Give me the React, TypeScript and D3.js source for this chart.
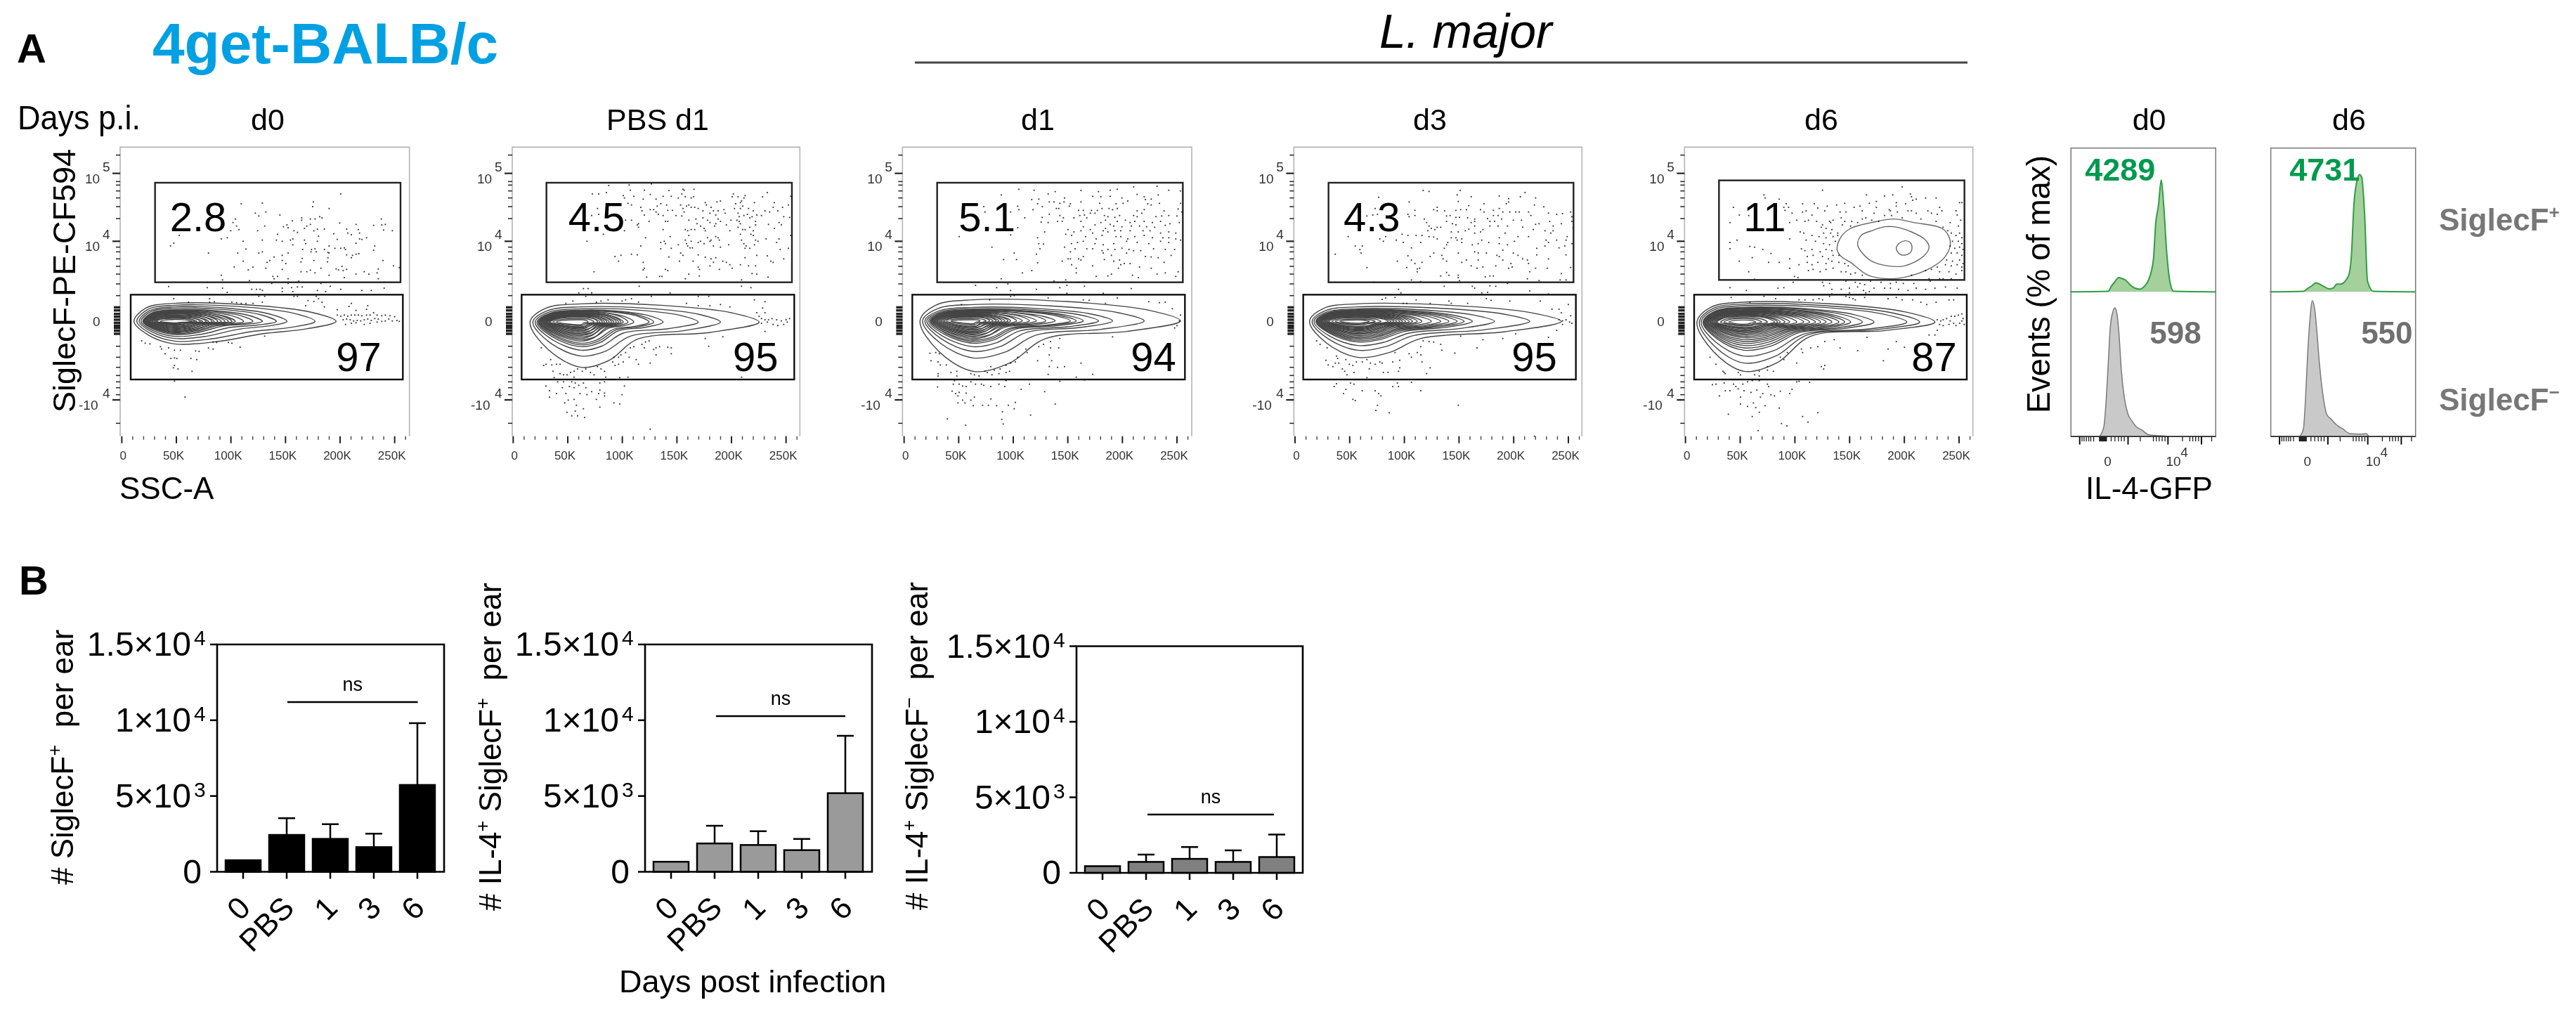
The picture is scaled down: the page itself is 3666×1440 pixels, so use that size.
import React from "react";
import * as D3 from "d3";

// ---------- Flow plots: digitised display channels (0-1290 across the plot crop) ----------
const columnTitles = ["d0", "PBS d1", "d1", "d3", "d6"];
const upperPercents = ["2.8", "4.5", "5.1", "4.3", "11"];
const lowerPercents = ["97", "95", "94", "95", "87"];
const sscTickValues = [0, 50, 100, 150, 200, 250];
const sscTickLabels = ["0", "50K", "100K", "150K", "200K", "250K"];
const sscMinorValues = [10,20,30,40,60,70,80,90,110,120,130,140,160,170,180,190,210,220,230,240,260];
const sigMajorChannels = [140, 430, 1107];
const sigMinorChannels = [62,175,190,215,245,282,333,455,475,505,537,570,612,662,712,725,740,752,765,778,790,800,812,825,878,925,968,1003,1030,1055,1085,1207];

const dotsD0 = [975,228,858,262,855,282,640,267,550,270,925,290,655,305,610,310,625,322,715,318,525,335,808,330,808,340,845,335,865,335,885,325,895,330,1148,335,970,352,1040,358,1115,362,1150,360,1165,358,768,343,745,360,730,368,750,372,845,358,830,365,820,375,650,365,620,385,540,380,515,350,530,365,505,385,1195,385,1158,382,1000,378,1050,380,905,378,875,378,860,385,775,385,790,392,705,400,1005,395,945,398,1020,402,1055,395,465,420,490,415,285,405,262,438,248,450,640,425,558,430,700,425,725,430,760,425,770,420,820,425,825,440,880,408,875,430,960,422,1085,415,1065,422,1055,420,1040,438,1120,450,770,445,925,450,950,460,975,460,990,458,995,465,850,465,865,462,905,465,870,475,848,475,812,465,1115,468,570,463,640,475,625,480,535,480,410,480,750,480,725,490,920,478,925,480,1000,488,1040,485,1052,483,1025,490,690,497,660,520,672,512,558,515,725,512,740,525,810,503,805,518,860,512,920,500,918,518,1020,500,1155,512,520,540,600,540,580,552,655,545,725,550,805,560,830,560,845,553,865,565,890,545,955,548,965,552,980,537,985,555,1000,550,1200,535,1225,542,1135,548,1130,565,1075,560,1095,570,1040,570,990,585,925,575,685,580,705,580,690,590,750,590,465,575,585,598,470,595,795,600,1135,590,890,610,405,605,240,623,405,628,470,630,490,648,595,635,615,635,630,635,640,640,680,610,725,630,765,628,790,625,810,625,725,645,770,645,875,640,910,645,930,622,975,635,1065,640,1105,640,1160,630,1160,605,750,610,262,675,415,675,625,665,650,665,775,665,790,665,870,665,880,675,325,690,415,690,435,688,510,690,530,692,550,695,570,695,600,695,640,690,835,683,860,687,895,690,825,705,905,710,1020,695,1010,708,1040,725,1090,705,1085,720,960,722,960,745,975,750,990,745,1005,750,1020,745,1035,745,1050,745,1065,748,1085,745,1100,745,1115,735,1130,745,1150,748,1165,745,1185,748,1205,752,985,765,1000,762,1015,765,1030,770,1045,768,1060,770,1075,765,1090,762,1105,768,1120,760,1135,762,1150,772,1165,770,1180,762,1195,770,1215,768,1225,772,995,785,1020,780,1040,778,1075,785,1100,780,1130,775,125,855,140,865,160,868,205,880,210,890,240,885,225,910,265,895,290,895,355,898,370,900,430,860,445,862,410,885,430,890,495,862,510,865,545,882,650,835,250,930,265,928,275,930,335,930,360,935,265,960,260,970,280,975,340,985,265,1027,310,1095];

const dotsPbs = [448,192,535,180,535,190,630,185,540,212,600,212,765,208,770,212,812,208,705,213,378,228,405,228,438,222,510,235,515,245,555,238,595,250,625,230,650,250,680,238,715,238,745,245,760,228,775,240,800,245,810,240,860,265,910,262,925,258,975,240,980,228,1000,240,1030,235,1025,245,1105,240,1125,222,1225,238,1015,258,1010,265,990,270,1070,265,1155,265,1215,275,1150,285,1190,285,530,268,545,275,585,285,640,295,655,280,670,270,695,275,755,275,765,290,780,280,790,275,800,285,815,285,830,290,865,275,885,285,915,300,940,295,985,290,1010,290,1020,280,1045,290,1065,300,1115,300,1170,300,400,290,375,320,405,315,590,300,600,318,625,295,650,305,660,315,680,320,700,298,720,298,735,320,760,322,770,305,850,300,880,310,895,300,905,318,945,310,1000,310,1005,325,1025,320,1040,315,1060,325,1080,318,1100,320,1135,305,1195,325,1220,328,520,340,545,340,575,355,620,345,690,345,700,345,790,340,820,335,850,330,870,340,915,335,925,345,905,355,970,340,995,340,1005,345,1010,355,1050,330,1075,345,1130,358,1175,350,1185,360,570,360,575,370,680,380,775,380,785,385,800,380,825,355,840,365,855,375,860,385,880,350,900,365,950,360,1000,370,1020,380,1030,380,1050,370,1075,360,1065,385,1155,375,425,400,515,385,605,415,710,410,790,405,815,380,870,415,885,425,905,410,915,415,920,425,965,385,1010,400,1055,400,1065,405,1225,405,1175,420,355,430,585,450,670,435,685,430,690,440,775,425,780,440,800,430,830,435,840,430,855,440,880,430,960,445,1015,425,1025,440,1035,450,1075,425,1085,430,1070,445,1120,420,1165,435,1180,465,1215,460,670,462,715,460,745,445,785,450,795,458,805,458,895,450,925,455,1030,460,1050,460,475,495,500,490,545,485,570,488,490,515,755,480,765,490,705,497,830,488,860,498,885,505,905,500,1030,500,1080,490,1125,492,1195,505,1140,515,1150,520,595,520,750,515,808,515,895,520,935,515,950,520,1010,530,600,545,595,552,700,555,690,550,830,540,835,550,880,535,920,550,965,530,975,545,1045,535,1075,535,385,560,610,583,665,580,675,580,775,590,790,570,835,578,1060,568,1080,570,1128,583,1015,595,578,622,1015,622,1055,628,340,632,360,632,320,650,350,665,375,650,630,665,710,650,830,665,875,665,445,680,505,685,295,685,265,695,395,690,415,685,520,680,545,675,575,690,780,695,830,705,880,705,925,700,965,710,1070,680,1115,688,1080,735,1105,715,1115,735,1090,750,1100,760,1115,765,1130,765,1145,760,1165,765,1185,770,1205,765,1220,760,1100,780,1125,775,1150,785,1170,790,1195,785,1210,775,1115,815,160,885,860,845,935,838,875,878,715,885,715,910,700,882,665,880,650,885,640,892,620,855,605,860,590,870,600,885,555,880,540,885,650,915,625,950,575,955,565,935,535,925,520,905,500,915,490,925,470,925,465,945,475,960,490,955,510,945,170,960,180,955,200,935,205,958,225,955,240,955,400,965,415,975,430,985,210,985,240,995,255,1000,270,1000,285,990,300,985,315,975,335,985,350,975,370,990,385,1000,435,1010,215,1012,280,1020,300,1010,495,1012,530,1010,1015,1010,230,1030,255,1030,290,1030,305,1035,340,1035,410,1035,430,1030,180,1048,195,1068,225,1080,250,1055,280,1050,300,1055,320,1045,350,1055,375,1072,265,1080,325,1080,355,1085,410,1065,405,1080,430,1078,515,1048,505,1085,195,1095,275,1108,300,1105,395,1105,430,1090,260,1120,310,1130,340,1145,410,1138,470,1120,495,1125,270,1160,290,1175,315,1175,345,1182,305,1155,625,1232];

const dotsD1 = [525,208,590,212,650,228,680,218,720,245,790,213,865,218,840,238,875,240,915,212,945,208,915,238,965,245,1015,198,1030,230,1115,195,1120,232,1165,212,1215,215,1060,240,1090,250,1065,252,450,232,580,252,610,250,655,262,675,262,700,268,718,262,745,270,790,262,870,268,940,270,970,268,1075,270,1090,275,1125,268,1215,268,990,258,520,280,525,295,605,270,625,282,685,290,695,290,740,280,780,298,800,298,835,298,860,298,880,290,910,290,925,295,945,290,1030,300,1060,295,1145,300,1205,292,1220,305,585,295,375,282,380,305,490,305,550,330,625,328,655,315,700,320,715,330,760,330,785,320,805,318,830,310,850,310,890,320,905,325,935,328,955,320,1015,320,1030,325,1050,310,1110,325,1135,322,1165,320,1200,322,620,348,650,350,690,345,710,345,790,345,815,330,875,350,895,340,915,358,945,345,980,340,1000,350,1020,345,1060,345,1095,350,1130,345,1170,355,1210,350,520,372,490,403,800,368,850,360,895,375,930,365,965,368,1005,365,1040,365,1070,368,1105,370,1150,362,735,380,760,390,790,385,830,380,840,395,885,385,905,390,935,385,960,385,1000,385,1055,385,1085,385,1130,395,1165,390,1195,395,270,410,725,400,750,405,810,410,855,420,880,405,940,410,960,410,990,420,1020,410,1060,405,1095,415,1140,415,1165,415,1215,425,610,440,630,442,605,415,635,390,720,455,750,440,775,435,800,430,850,440,885,445,930,440,985,430,1030,435,1080,440,1130,430,1165,435,1195,420,410,455,615,462,745,475,765,462,815,462,840,462,880,470,905,465,935,465,965,460,995,465,1015,470,1045,470,1100,462,1150,465,1190,465,505,480,600,485,735,505,780,505,790,510,885,480,920,490,985,480,1065,495,1090,497,1120,500,1175,490,460,508,515,508,710,515,745,505,800,495,890,508,930,515,955,510,1000,525,1145,520,605,522,750,530,840,535,960,530,975,525,1040,540,1090,545,770,545,580,555,950,545,540,565,770,565,855,580,905,578,920,570,1010,575,1035,585,1115,570,1150,565,1195,580,1205,560,450,590,675,600,725,595,780,605,800,605,340,618,430,628,478,612,600,635,700,628,730,618,805,622,1005,632,730,652,885,652,490,640,490,665,505,662,945,672,400,680,650,672,800,680,825,682,280,700,895,695,1080,688,1125,692,1150,690,1180,718,1215,745,1210,770,1200,790,1190,800,700,845,925,838,660,858,630,870,610,880,660,885,695,885,555,890,560,905,655,915,605,940,665,940,790,950,690,968,720,965,655,965,145,908,170,905,185,910,150,940,180,945,190,958,215,958,520,925,510,945,490,950,470,960,445,975,405,965,420,980,380,985,390,990,180,995,235,990,260,985,260,1005,320,995,335,1000,355,1005,410,1000,440,995,470,990,485,985,650,998,840,998,770,1010,180,1005,250,1025,245,1040,270,1040,285,1048,300,1050,340,1040,365,1040,375,1045,405,1050,440,1040,465,1050,470,1025,320,1030,570,1040,805,1022,700,1028,178,1052,240,1070,255,1080,270,1075,300,1078,265,1090,535,1062,635,1072,285,1108,320,1108,405,1103,265,1120,295,1120,335,1095,330,1132,370,1130,395,1130,430,1132,480,1130,510,1118,505,1145,680,1125,455,1158,575,1172,220,1188,452,1190,458,1210,298,1215];

const dotsD3 = [580,213,605,217,738,213,725,232,785,240,730,260,905,237,1015,222,995,240,1060,245,945,248,935,270,945,262,390,242,520,262,840,270,1055,275,1095,283,775,278,765,295,640,285,625,295,672,300,640,300,720,298,740,295,825,295,840,305,880,298,905,290,920,305,950,305,975,305,990,305,1030,305,1115,310,1210,305,375,290,545,298,340,322,365,318,385,315,515,315,520,325,545,320,680,322,695,320,720,328,735,328,770,330,800,335,855,333,880,320,900,320,1040,320,1150,315,1175,312,1215,325,585,335,595,350,605,365,640,370,680,345,705,355,720,360,785,350,800,345,865,345,885,345,915,335,965,340,1000,340,1075,355,1060,358,1120,345,1135,365,1170,355,1215,345,600,385,615,375,630,380,655,370,700,390,730,390,760,385,775,378,800,365,835,380,865,365,900,365,940,365,1005,370,1050,380,1100,385,1135,385,1220,372,490,400,515,405,550,405,575,405,605,410,625,412,640,420,700,415,720,415,745,420,800,395,825,390,905,415,930,395,985,410,1030,410,1125,395,1195,410,260,410,420,410,395,420,410,430,465,425,495,435,570,435,685,435,725,425,745,435,790,445,815,440,830,425,860,435,905,440,940,445,970,430,1105,425,1150,425,1190,425,290,450,320,450,310,465,530,458,670,460,680,445,920,468,1065,460,1100,450,1115,435,1160,458,1185,450,1215,440,205,485,315,480,625,480,660,490,730,480,800,475,815,480,850,480,895,490,905,495,965,480,985,490,1065,488,1190,488,515,492,610,495,470,515,530,510,665,505,680,515,745,520,765,510,815,510,920,510,1005,505,1025,510,1115,505,545,525,575,520,955,525,1030,525,510,542,555,548,565,545,785,535,810,545,835,540,890,535,945,545,960,540,1060,545,1110,545,1210,542,340,542,555,560,680,563,690,575,655,578,730,575,730,585,845,582,865,578,880,578,1035,560,1170,568,530,595,570,602,735,598,370,605,1025,590,1075,598,1165,595,1190,595,940,610,670,622,790,622,800,630,865,620,890,622,475,635,485,650,830,650,855,648,1035,642,1115,655,420,672,460,670,550,680,405,678,850,675,870,682,495,695,510,695,610,695,690,685,700,695,770,695,950,685,1080,685,1200,700,1130,720,1160,720,1170,735,1210,748,1160,765,1175,770,1190,765,1205,775,1215,780,1175,785,1150,810,740,835,835,850,920,845,810,885,975,825,1115,840,125,855,140,870,170,885,580,855,605,858,625,860,655,870,570,880,660,895,715,907,555,905,520,910,570,915,530,925,460,905,210,920,215,930,250,935,480,938,165,938,175,958,195,965,205,950,220,950,265,955,280,960,295,945,320,945,340,935,355,950,375,955,395,945,405,950,450,945,480,970,575,945,610,970,235,975,245,985,350,975,410,990,430,990,475,985,595,995,255,1000,285,990,340,1012,200,1050,210,1038,245,1020,270,1035,285,1040,450,1050,470,1035,475,1050,530,1032,250,1062,320,1068,375,1068,570,1068,240,1080,390,1080,400,1090,280,1105,290,1110,385,1130,730,1130,378,1152,435,1162,1055,1262];

const dotsD6 = [960,198,620,212,808,232,885,237,920,232,995,228,1000,240,370,232,1020,250,1060,245,1105,245,435,250,935,265,850,260,375,245,240,285,465,270,455,285,475,285,535,270,585,270,640,280,680,275,715,268,755,285,780,280,820,268,850,285,905,295,935,280,975,270,1005,255,1120,285,1205,265,1215,265,265,318,225,350,305,320,490,310,460,298,535,305,550,300,575,318,600,288,630,300,650,345,695,305,720,305,790,300,805,330,840,310,910,300,915,320,940,305,985,300,1000,300,1020,310,1070,300,1085,310,1110,315,1130,300,1190,300,1195,318,480,350,510,340,545,345,560,340,595,345,620,360,655,350,665,340,700,330,715,345,745,345,770,350,790,335,830,340,860,345,885,320,960,330,1040,335,1105,345,1165,350,1135,370,1155,385,1210,340,1200,365,615,370,635,375,660,380,705,360,740,365,625,395,655,395,685,395,1170,395,1190,405,1205,395,1215,415,525,390,540,395,575,405,605,410,635,415,665,410,685,405,1175,430,1200,430,1215,440,480,420,550,425,590,430,625,440,650,445,675,430,1165,450,1185,460,1205,455,1220,465,310,452,330,455,225,435,255,425,225,462,365,465,400,482,530,462,545,470,575,465,610,475,635,465,660,470,1170,480,1195,480,1215,490,320,500,265,515,390,520,435,520,480,505,555,495,580,490,620,495,645,505,665,490,690,490,1150,510,1175,515,1205,510,1220,525,305,560,480,545,520,530,555,520,575,530,600,520,635,525,660,515,690,520,715,525,730,535,1110,540,1145,530,1170,535,1195,530,1215,540,330,592,500,580,515,585,495,605,560,555,580,550,610,560,635,550,665,545,700,560,720,560,740,570,760,565,790,575,1060,555,1085,550,1120,560,1160,560,1190,570,1215,555,1075,590,1135,590,1170,590,1000,575,620,605,650,610,720,600,760,605,780,610,800,615,825,600,870,605,910,610,935,605,965,610,1010,610,1080,600,1120,590,225,628,295,640,430,630,455,628,625,620,660,635,700,635,735,630,770,625,795,640,820,645,840,630,885,630,910,630,945,635,985,640,1020,630,1060,635,1100,630,1145,625,1195,630,660,655,735,650,805,650,230,670,310,690,370,665,420,675,520,680,545,680,580,680,605,675,620,680,650,665,720,665,735,670,750,675,760,680,800,670,900,675,935,670,960,680,1005,680,1040,690,1065,700,1105,690,1160,680,1180,680,1110,765,1125,770,1135,765,1150,760,1165,770,1170,750,1185,750,1200,745,1215,740,1220,760,1215,770,1120,785,1135,790,1160,785,1180,780,1190,790,1205,780,1225,785,1110,810,1075,830,1100,830,810,840,935,858,970,882,900,890,770,897,880,940,695,885,670,850,630,858,600,880,570,885,530,890,535,905,470,905,440,925,455,935,510,950,615,965,630,960,625,975,140,925,165,955,385,965,350,985,385,980,200,990,195,985,205,995,260,990,270,1000,330,1000,350,1005,410,985,165,1040,150,1042,200,1035,240,1040,250,1050,260,1060,280,1040,300,1030,320,1025,350,1025,385,1040,390,1050,510,1030,520,1028,565,1032,205,1068,225,1068,180,1090,285,1068,315,1075,340,1065,365,1080,400,1085,415,1090,440,1070,480,1080,490,1062,355,1095,270,1095,270,1125,300,1135,325,1120,335,1140,375,1132,435,1142,218,1168,320,1178,350,1160,535,1178,600,1162,558,1202,445,1208,468,1218,345,1238];
const dotLists = [dotsD0, dotsPbs, dotsD1, dotsD3, dotsD6];

// contour: [left, right, top, bottom, neckX, neckY] channels, outermost first
const contoursD0 = [[92,955,695,868,640,825],[104,865,703,856,590,816],[114,745,710,845,540,805],[122,700,716,836,500,798],[130,640,722,828,470,792],[136,560,727,820,440,788],[142,525,731,814,420,786],[148,495,735,808,400,785],[154,465,739,802,380,784],[160,435,744,796,360,783],[168,410,749,790,340,782],[178,385,754,785,320,780],[190,360,759,781,300,778],[205,340,764,778,285,776],[133,600,724,824,450,790],[139,510,729,818,420,787],[145,480,733,812,400,785],[151,450,737,806,380,784],[157,425,741,800,360,783],[164,400,746,794,340,782],[172,375,751,788,320,780],[184,350,756,783,300,778]];
const contoursPbs = [[112,1090,697,968,570,848],[124,925,710,920,540,835],[134,830,718,895,510,822],[142,680,724,880,490,812],[150,620,728,865,470,805],[156,555,732,850,450,800],[162,510,736,838,430,796],[168,490,739,828,420,792],[174,470,743,818,410,790],[180,450,747,808,395,787],[188,430,750,800,380,785],[198,410,755,795,370,783],[210,385,760,790,350,781],[225,360,765,786,340,779],[147,640,726,872,480,808],[153,530,730,856,440,798],[159,500,734,844,425,794],[165,480,737,833,415,791],[171,460,741,823,400,789],[177,440,745,813,390,786],[184,420,748,804,375,784],[193,400,752,797,360,782]];
const contoursD1 = [[103,1215,680,985,640,845],[114,1060,700,928,600,830],[124,925,712,900,560,818],[132,865,718,880,530,812],[140,800,722,865,510,805],[146,745,726,852,490,800],[152,680,730,840,470,796],[158,600,734,830,450,793],[164,540,738,822,430,790],[170,490,742,814,420,787],[178,465,746,806,410,785],[188,440,750,798,390,783],[200,415,755,792,370,781],[215,385,760,786,350,779],[235,360,765,782,340,776],[149,770,724,858,500,802],[155,640,728,846,460,794],[161,570,732,835,440,791],[167,515,736,826,425,788],[174,478,740,818,415,786],[183,452,744,810,400,784],[194,428,748,802,380,782],[207,400,752,795,360,780]];
const contoursD3 = [[95,1170,697,925,570,845],[106,1035,710,895,540,832],[114,885,718,875,520,822],[122,790,722,860,500,815],[128,725,726,848,480,808],[134,655,730,838,470,802],[140,575,734,828,450,797],[146,535,737,820,430,793],[152,505,741,812,420,790],[160,480,745,806,400,787],[168,455,749,800,385,785],[178,430,753,794,370,783],[190,400,757,788,350,781],[205,375,762,784,340,779],[225,350,766,780,330,777],[125,755,724,854,490,811],[131,690,728,843,475,805],[137,615,732,833,460,799],[143,555,735,824,440,795],[149,520,739,816,425,791],[156,492,743,809,410,788],[164,467,747,803,392,786],[173,442,751,797,378,784]];
const contoursD6 = [[84,1100,690,985,570,835],[94,1035,698,950,555,830],[102,980,705,920,540,826],[110,840,712,895,520,820],[116,740,717,875,500,815],[122,690,722,858,480,810],[128,635,727,842,460,805],[134,590,731,830,440,800],[142,540,735,820,420,795],[150,480,740,812,400,791],[160,440,745,804,385,788],[170,415,750,798,365,785],[185,385,755,792,350,783],[200,360,760,788,335,781],[220,335,766,784,315,779],[113,790,714,885,510,817],[119,715,719,866,490,812],[125,660,725,850,470,807],[131,612,729,836,450,802],[138,565,733,825,430,797],[146,510,737,816,410,793],[155,460,742,808,392,789],[165,428,747,801,375,786]];
const contourLists = [contoursD0, contoursPbs, contoursD1, contoursD3, contoursD6];
const eosOuter = [[682,465],[700,410],[740,375],[830,350],[925,335],[1010,350],[1130,375],[1160,410],[1165,450],[1140,500],[1080,545],[985,580],[900,590],[815,575],[740,520],[700,495]];
const eosMiddle = [[770,445],[785,405],[830,385],[885,368],[925,368],[1000,390],[1060,425],[1075,455],[1050,495],[970,535],[900,535],[830,515],[790,480]];
const eosInner = [[935,460],[948,438],[975,428],[998,440],[1000,470],[980,487],[950,485]];

// ---------- Histograms: digitised channel and event height ----------
const hGreenD0X = [305,435,445,458,470,480,495,510,525,545,560,575,590,598,607,617,625,635,648,660,805];
const hGreenD0Y = [0,2,22,42,59,56,48,29,16,11,24,54,134,284,354,462,364,174,34,2,0];
const hGreenD6X = [990,1105,1120,1135,1148,1160,1175,1195,1208,1220,1232,1248,1262,1270,1278,1290,1298,1305,1315,1325,1345,1490];
const hGreenD6Y = [0,2,14,26,37,32,22,12,16,32,32,44,74,154,354,464,484,474,324,44,2,0];
const hGrayD0X = [405,420,428,435,442,450,458,465,472,480,490,503,515,530,550,575,600,630,640];
const hGrayD0Y = [0,42,152,302,452,512,532,507,422,272,162,92,67,42,27,7,4,2,0];
const hGrayD6X = [1092,1105,1112,1120,1128,1135,1143,1150,1160,1172,1185,1200,1220,1240,1265,1300,1320,1330];
const hGrayD6Y = [0,32,152,352,492,562,532,452,302,172,92,72,47,32,12,10,12,0];
const histTitles = ["d0", "d6"];
const histGreenLabels = ["4289", "4731"];
const histGrayLabels = ["598", "550"];
const histMajorChannels = [337, 503, 640, 755];
const histMinorChannels = [345,352,360,368,375,385,407,412,417,422,427,445,458,470,480,490,545,590,600,610,620,630,690,715,725,735,745,790];

// ---------- Bar charts ----------
const barCategories = ["0", "PBS", "1", "3", "6"];
const siglecFPosMeans = [764, 2433, 2172, 1629, 5730];
const siglecFPosTops = [764, 3539, 3137, 2513, 9812];
const il4PosMeans = [663, 1870, 1769, 1428, 5188];
const il4PosTops = [663, 3036, 2674, 2172, 8968];
const il4NegMeans = [443, 725, 926, 725, 1047];
const il4NegTops = [443, 1208, 1711, 1490, 2537];
const nsLevels = [11200, 10275, 3866];
const barTicks = [0, 5000, 10000, 15000];
const barTickBases = ["0", "5×10", "1×10", "1.5×10"];
const barTickPowers = ["", "3", "4", "4"];

const FONT = "'Liberation Sans', Arial, sans-serif";

// layout
const flowOrigins = [160, 717, 1275, 1832, 2387];
const frames = [[33,1268],[36,1264],[28,1263],[28,1258],[31,1262]];
const sscRanges = [[40,1205],[40,1205],[35,1200],[33,1200],[35,1203]];
const upperGates = [[182,1230,180,605],[182,1230,180,605],[176,1225,180,605],[176,1222,180,605],[178,1226,170,595]];
const lowerGates = [[78,1240,658,1020],[76,1240,658,1020],[70,1234,658,1020],[68,1232,658,1020],[72,1236,658,1020]];
const upperTextX = [245,275,268,240,283];
const lowerTextX = [955,978,1003,958,1000];
const titleCentres = [381,936,1477,2035,2592];
const contourCentres = [[772,265],[775,330],[770,330],[772,300],[775,285]];

const closedCurve = D3.line().curve(D3.curveCatmullRomClosed.alpha(0.5));

function contourShape(c: number[], yc: number, xLobe: number) {
  const [xL, xR, yT, yB, xN, yN] = c;
  return [
    [xL, yc],
    [xL + (xLobe - xL) * 0.3, yT + (yc - yT) * 0.25],
    [xLobe, yT],
    [xLobe + (xR - xLobe) * 0.45, yT + (yc - yT) * 0.08],
    [xLobe + (xR - xLobe) * 0.85, yc - (yc - yT) * 0.5],
    [xR, yc],
    [xN + (xR - xN) * 0.6, yc + (yN - yc) * 0.6],
    [xN, yN],
    [xLobe + (xN - xLobe) * 0.5, yB - (yB - yN) * 0.25],
    [xLobe, yB],
    [xL + (xLobe - xL) * 0.35, yc + (yB - yc) * 0.6],
  ];
}

function FlowPanel({ i }: { i: number }) {
  const x = D3.scaleLinear().domain([0, 1290]).range([flowOrigins[i], flowOrigins[i] + 430]);
  const y = D3.scaleLinear().domain([0, 1290]).range([200, 630]);
  const ssc = D3.scaleLinear().domain([0, 250]).range(sscRanges[i]);
  const [fl, fr] = frames[i];
  const left = x(fl), right = x(fr), top = y(28), bottom = y(1262);
  const [uL, uR, uT, uB] = upperGates[i];
  const [lL, lR, lT, lB] = lowerGates[i];
  const dots = dotLists[i];
  const path = (pts: number[][]) => closedCurve(pts.map(([a, b]) => [x(a), y(b)] as [number, number])) as string;
  const [yc, xLobe] = contourCentres[i];
  const pairs: number[][] = [];
  for (let k = 0; k < dots.length; k += 2) pairs.push([dots[k], dots[k + 1]]);
  return (
    <g>
      <path d={`M${left},${bottom}V${top}H${right}V${bottom}`} fill="none" stroke="#b4b4b4" strokeWidth={1.6} />
      {sscTickValues.map((v) => (
        <line key={v} x1={x(ssc(v))} x2={x(ssc(v))} y1={bottom} y2={bottom + 10} stroke="#222" strokeWidth={2} />
      ))}
      {sscMinorValues.map((v) => (
        <line key={v} x1={x(ssc(v))} x2={x(ssc(v))} y1={bottom} y2={bottom + 5} stroke="#444" strokeWidth={1.4} />
      ))}
      {sscTickLabels.map((t, k) => (
        <text key={t} x={x(ssc(sscTickValues[k])) + (k === 0 ? 2 : -4)} y={654} textAnchor="middle" fontSize={17} fill="#333">{t}</text>
      ))}
      {sigMajorChannels.map((c) => (
        <line key={c} x1={left - 11} x2={left} y1={y(c)} y2={y(c)} stroke="#222" strokeWidth={2.2} />
      ))}
      {sigMinorChannels.map((c) => {
        const dense = c > 700 && c < 830;
        return <line key={c} x1={left - (dense ? 9 : 6)} x2={left} y1={y(c)} y2={y(c)} stroke="#222" strokeWidth={dense ? 3.4 : 1.5} />;
      })}
      <text x={left - 50} y={261} fontSize={19} fill="#333">10</text>
      <text x={left - 25} y={244} fontSize={19} fill="#333">5</text>
      <text x={left - 50} y={357} fontSize={19} fill="#333">10</text>
      <text x={left - 25} y={340} fontSize={19} fill="#333">4</text>
      <text x={left - 39} y={464} fontSize={19} fill="#333">0</text>
      <text x={left - 59} y={583} fontSize={19} fill="#333">-10</text>
      <text x={left - 25} y={566} fontSize={19} fill="#333">4</text>

      {contourLists[i].map((c, k) => (
        <path key={k} d={path(contourShape(c, yc, xLobe))} fill="none" stroke="#444" strokeWidth={1.4} />
      ))}
      {i === 4 && [eosOuter, eosMiddle, eosInner].map((c, k) => (
        <path key={k} d={path(c)} fill="none" stroke="#666" strokeWidth={1.4} />
      ))}
      {pairs.map(([a, b], k) => (
        <rect key={k} x={x(a) - 0.9} y={y(b) - 0.9} width={1.8} height={1.8} fill="#000" fillOpacity={0.85} />
      ))}
      <rect x={x(uL)} y={y(uT)} width={x(uR) - x(uL)} height={y(uB) - y(uT)} fill="none" stroke="#222" strokeWidth={2.4} />
      <rect x={x(lL)} y={y(lT)} width={x(lR) - x(lL)} height={y(lB) - y(lT)} fill="none" stroke="#111" strokeWidth={2.4} />
      <text x={x(upperTextX[i])} y={y(388)} fontSize={58} fill="#000">{upperPercents[i]}</text>
      <text x={x(lowerTextX[i])} y={y(985)} fontSize={58} fill="#000">{lowerPercents[i]}</text>
      <text x={titleCentres[i]} y={185} textAnchor="middle" fontSize={43} fill="#000">{columnTitles[i]}</text>
    </g>
  );
}

function HistPanels() {
  const x = D3.scaleLinear().domain([0, 1568]).range([2820, 3470]);
  const y = D3.scaleLinear().domain([0, 1568]).range([190, 730]);
  const area = (xs: number[], vs: number[], base: number) =>
    D3.area<number>().x((_, i) => x(xs[i])).y0(y(base)).y1((v) => y(base - v)).curve(D3.curveMonotoneX)(vs) as string;
  const line = (xs: number[], vs: number[], base: number) =>
    D3.line<number>().x((_, i) => x(xs[i])).y((v) => y(base - v)).curve(D3.curveMonotoneX)(vs) as string;
  const panels = [
    { l: 307, r: 804, gx: hGreenD0X, gy: hGreenD0Y, ax: hGrayD0X, ay: hGrayD0Y, off: 0, lab: 355, lab2: 577 },
    { l: 993, r: 1490, gx: hGreenD6X, gy: hGreenD6Y, ax: hGrayD6X, ay: hGrayD6Y, off: 686, lab: 1057, lab2: 1303 },
  ];
  return (
    <g>
      {panels.map((p, i) => (
        <g key={i}>
          <path d={area(p.gx, p.gy, 654)} fill="#a4d09c" />
          <path d={line(p.gx, p.gy, 654)} fill="none" stroke="#2f9e44" strokeWidth={2} />
          <path d={area(p.ax, p.ay, 1252)} fill="#c9c9c9" stroke="#7a7a7a" strokeWidth={1.5} />
          <rect x={x(p.l)} y={y(60)} width={x(p.r) - x(p.l)} height={y(1252) - y(60)} fill="none" stroke="#777" strokeWidth={1.5} />
          <line x1={x(p.l)} x2={x(p.r)} y1={y(1252)} y2={y(1252)} stroke="#333" strokeWidth={1.6} />
          {histMajorChannels.map((c) => (
            <line key={c} x1={x(c + p.off)} x2={x(c + p.off)} y1={y(1252)} y2={y(1285)} stroke="#111" strokeWidth={2} />
          ))}
          {histMinorChannels.map((c) => (
            <line key={c} x1={x(c + p.off)} x2={x(c + p.off)} y1={y(1252)} y2={y(1272)} stroke="#222" strokeWidth={c > 400 && c < 430 ? 3 : 1.3} />
          ))}
          <text x={x(433 + p.off)} y={663} textAnchor="middle" fontSize={19} fill="#333">0</text>
          <text x={x(633 + p.off)} y={663} fontSize={19} fill="#333">10</text>
          <text x={x(683 + p.off)} y={650} fontSize={19} fill="#333">4</text>
          <text x={x(p.lab)} y={257} fontSize={45} fontWeight="bold" fill="#009a4e">{histGreenLabels[i]}</text>
          <text x={x(p.lab2)} y={489} fontSize={44} fontWeight="bold" fill="#707070">{histGrayLabels[i]}</text>
          <text x={x((p.l + p.r) / 2 + 20)} y={185} textAnchor="middle" fontSize={43}>{histTitles[i]}</text>
        </g>
      ))}
      <text transform="translate(2917,588) rotate(-90)" fontSize={46} textLength={367} lengthAdjust="spacing" style={{ whiteSpace: "pre" }}>{"Events (% of max)"}</text>
      <text x={2968} y={710} fontSize={44}>IL-4-GFP</text>
      <text x={3471} y={328} fontSize={44} fontWeight="bold" fill="#777">SiglecF<tspan fontSize={26} dy={-17}>+</tspan></text>
      <text x={3471} y={584} fontSize={44} fontWeight="bold" fill="#777">SiglecF<tspan fontSize={26} dy={-17}>{"\u2212"}</tspan></text>
    </g>
  );
}

function BarChart({ l, r, t, b, means, tops, ns, fill, nsX, nsText }: any) {
  const x = D3.scaleBand<string>().domain(barCategories).range([l + 6, l + 316]).paddingInner(0.1935).paddingOuter(0.097);
  const y = D3.scaleLinear().domain([0, 15000]).range([b, t]);
  return (
    <g>
      {barCategories.map((c, i) => {
        const cx = (x(c) as number) + x.bandwidth() / 2;
        return (
          <g key={c}>
            {tops[i] > means[i] && (
              <path d={`M${cx},${y(means[i])}V${y(tops[i])}M${cx - 12},${y(tops[i])}H${cx + 12}`} fill="none" stroke="#000" strokeWidth={2.5} />
            )}
            <rect x={x(c)} y={y(means[i])} width={x.bandwidth()} height={b - y(means[i])} fill={fill} stroke="#000" strokeWidth={2.5} />
            <line x1={cx} x2={cx} y1={b} y2={b + 10} stroke="#000" strokeWidth={2.5} />
            <text transform={`translate(${cx + 2},${b + 43}) rotate(-45)`} textAnchor="end" dy="0.35em" fontSize={44}>{c}</text>
          </g>
        );
      })}
      <path d={`M${l},${b}V${t}H${r}V${b}H${l}`} fill="none" stroke="#000" strokeWidth={2.6} />
      {barTicks.map((v, i) => (
        <g key={v}>
          <line x1={l - 10} x2={l} y1={y(v)} y2={y(v)} stroke="#000" strokeWidth={2.5} />
          {i === 0 ? (
            <text x={l - 22} y={y(v) + 16} textAnchor="end" fontSize={48}>{barTickBases[i]}</text>
          ) : (
            <g>
              <text x={l - 37} y={y(v) + 16} textAnchor="end" fontSize={48}>{barTickBases[i]}</text>
              <text x={l - 33} y={y(v) + 1} fontSize={30}>{barTickPowers[i]}</text>
            </g>
          )}
        </g>
      ))}
      <line x1={nsX[0]} x2={nsX[1]} y1={y(ns)} y2={y(ns)} stroke="#000" strokeWidth={2.5} />
      <text x={(nsX[0] + nsX[1]) / 2} y={y(ns) - nsText} textAnchor="middle" fontSize={27}>ns</text>
    </g>
  );
}

function AxisTitle({ x, y, parts }: { x: number; y: number; parts: [string, string][] }) {
  return (
    <text transform={`translate(${x},${y}) rotate(-90)`} fontSize={44} style={{ whiteSpace: "pre" }}>
      {parts.map(([a, sup], i) => (
        <tspan key={i}>
          <tspan>{a}</tspan>
          {sup && <tspan fontSize={27} dy={-17}>{sup}</tspan>}
          {sup && <tspan dy={17}>{" "}</tspan>}
        </tspan>
      ))}
    </text>
  );
}

export default function App() {
  return (
    <svg width={3666} height={1440} viewBox="0 0 3666 1440" style={{ position: "absolute", left: 0, top: 0, background: "#fff" }} fontFamily={FONT}>
      <defs>
        <filter id="soft" x="0" y="0" width="100%" height="100%"><feGaussianBlur stdDeviation="0.6" /></filter>
      </defs>
      <rect width={3666} height={1440} fill="#fff" />
      <g filter="url(#soft)">
        <text x={24} y={89} fontSize={58} fontWeight="bold">A</text>
        <text x={27} y={846} fontSize={58} fontWeight="bold">B</text>
        <text x={217} y={90} fontSize={82} fontWeight="bold" fill="#00a0e3">4get-BALB/c</text>
        <text x={1963} y={68} fontSize={68} fontStyle="italic">L. major</text>
        <line x1={1302} x2={2800} y1={89} y2={89} stroke="#444" strokeWidth={3} />
        <text x={25} y={184} fontSize={49} textLength={175} lengthAdjust="spacingAndGlyphs">Days p.i.</text>
        <text transform="translate(107,587) rotate(-90)" fontSize={45}>SiglecF-PE-CF594</text>
        <text x={170} y={710} fontSize={44}>SSC-A</text>
        {columnTitles.map((_, i) => <FlowPanel key={i} i={i} />)}
        <HistPanels />
        <BarChart l={309} r={632} t={917} b={1240.5} means={siglecFPosMeans} tops={siglecFPosTops} ns={nsLevels[0]} fill="#000" nsX={[409, 594.5]} nsText={16} />
        <BarChart l={918} r={1241} t={917} b={1240.5} means={il4PosMeans} tops={il4PosTops} ns={nsLevels[1]} fill="#9a9a9a" nsX={[1019, 1203]} nsText={16} />
        <BarChart l={1532} r={1854} t={919.5} b={1242} means={il4NegMeans} tops={il4NegTops} ns={nsLevels[2]} fill="#808080" nsX={[1633, 1813]} nsText={16} />
        <AxisTitle x={104} y={1259} parts={[["# SiglecF", "+"], [" per ear", ""]]} />
        <AxisTitle x={713} y={1296} parts={[["# IL-4", "+"], ["SiglecF", "+"], [" per ear", ""]]} />
        <AxisTitle x={1320} y={1295} parts={[["# IL-4", "+"], ["SiglecF", "\u2212"], [" per ear", ""]]} />
        <text x={881} y={1412} fontSize={45}>Days post infection</text>
      </g>
    </svg>
  );
}
